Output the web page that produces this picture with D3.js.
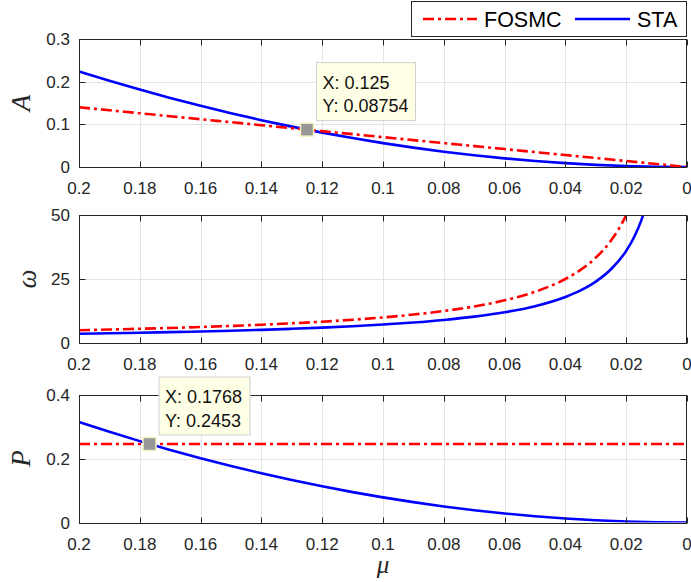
<!DOCTYPE html>
<html>
<head>
<meta charset="utf-8">
<script src="https://cdn.jsdelivr.net/npm/d3@7"></script>
<style>
  html, body { margin: 0; padding: 0; background: #fff; }
  svg { display: block; font-family: "Liberation Sans", Arial, Helvetica, sans-serif; }
  .math { font-family: "Liberation Serif", "Times New Roman", "DejaVu Serif", serif; font-style: italic; }
</style>
</head>
<body>
<svg id="chart" width="691" height="582"></svg>
<script>
// Sample points of the parameter mu
const mu = [0.20, 0.19, 0.18, 0.17, 0.16, 0.15, 0.14, 0.13, 0.12, 0.11, 0.10,
            0.09, 0.08, 0.07, 0.06, 0.05, 0.04, 0.03, 0.02, 0.01, 0.00];

// Amplitude A
const aFOSMC = [0.140, 0.133, 0.126, 0.119, 0.112, 0.105, 0.098, 0.091, 0.084, 0.077, 0.070,
                0.063, 0.056, 0.049, 0.042, 0.035, 0.028, 0.021, 0.014, 0.007, 0.000];
const aSTA   = [0.224, 0.2022, 0.1814, 0.1618, 0.1434, 0.126, 0.1098, 0.0946, 0.0806, 0.0678, 0.056,
                0.0454, 0.0358, 0.0274, 0.0202, 0.014, 0.009, 0.005, 0.0022, 0.0006, 0.0];

// Frequency omega (denser near the vertical asymptote)
const muW = [0.20, 0.19, 0.18, 0.17, 0.16, 0.15, 0.14, 0.13, 0.12, 0.11, 0.10,
             0.09, 0.08, 0.07, 0.06, 0.05, 0.04, 0.035, 0.03, 0.025, 0.02, 0.0175, 0.015, 0.0125];
const wFOSMC = [5.0, 5.26, 5.56, 5.88, 6.25, 6.67, 7.14, 7.69, 8.33, 9.09, 10.0,
                11.11, 12.5, 14.29, 16.67, 20.0, 25.0, 28.57, 33.33, 40.0, 50.0, 57.1, 66.7, 80.0];
const wSTA   = [3.6, 3.79, 4.0, 4.24, 4.5, 4.8, 5.14, 5.54, 6.0, 6.55, 7.2,
                8.0, 9.0, 10.29, 12.0, 14.4, 18.0, 20.57, 24.0, 28.8, 36.0, 41.1, 48.0, 57.6];

// Chattering power P
const pFOSMC = [0.2453, 0.2453, 0.2453, 0.2453, 0.2453, 0.2453, 0.2453, 0.2453, 0.2453, 0.2453, 0.2453,
                0.2453, 0.2453, 0.2453, 0.2453, 0.2453, 0.2453, 0.2453, 0.2453, 0.2453, 0.2453];
const pSTA   = [0.314, 0.2834, 0.2543, 0.2269, 0.201, 0.1766, 0.1539, 0.1327, 0.113, 0.095, 0.0785,
                0.0636, 0.0502, 0.0385, 0.0283, 0.0196, 0.0126, 0.0071, 0.0031, 0.0008, 0.0];

const xTicks = [0.2, 0.18, 0.16, 0.14, 0.12, 0.1, 0.08, 0.06, 0.04, 0.02, 0];
const xTickLabels = ["0.2", "0.18", "0.16", "0.14", "0.12", "0.1", "0.08", "0.06", "0.04", "0.02", "0"];

const seriesNames = ["FOSMC", "STA"];

const panels = [
  { key: "A", label: "A", top: 39, yDomain: [0, 0.3], yTicks: [0, 0.1, 0.2, 0.3], yTickLabels: ["0", "0.1", "0.2", "0.3"],
    xs: mu, series: [aFOSMC, aSTA], tip: { x: 0.125, y: 0.08754, text: ["X: 0.125", "Y: 0.08754"] } },
  { key: "w", label: "\u03c9", top: 215, yDomain: [0, 50], yTicks: [0, 25, 50], yTickLabels: ["0", "25", "50"],
    xs: muW, series: [wFOSMC, wSTA], tip: null },
  { key: "P", label: "P", top: 394.5, yDomain: [0, 0.4], yTicks: [0, 0.2, 0.4], yTickLabels: ["0", "0.2", "0.4"],
    xs: mu, series: [pFOSMC, pSTA], tip: { x: 0.1768, y: 0.2453, text: ["X: 0.1768", "Y: 0.2453"] } }
];

const left = 79, right = 687, plotH = 128;
const axisColor = "#262626";
const gridColor = "#e3e3e3";
const colors = ["#ff0000", "#0000ff"];
const dashes = ["11,4,3,4", null];
const lineW = 2.6;

const svg = d3.select("#chart");
const x = d3.scaleLinear().domain([0.2, 0]).range([left, right]);

panels.forEach(p => {
  const y = d3.scaleLinear().domain(p.yDomain).range([p.top + plotH, p.top]);
  const g = svg.append("g");

  // grid
  g.append("g").selectAll("line").data(xTicks.slice(1, -1)).join("line")
    .attr("x1", d => Math.round(x(d)) + 0.5).attr("x2", d => Math.round(x(d)) + 0.5)
    .attr("y1", p.top).attr("y2", p.top + plotH)
    .attr("stroke", gridColor).attr("stroke-width", 1);
  g.append("g").selectAll("line").data(p.yTicks.slice(1, -1)).join("line")
    .attr("x1", left).attr("x2", right)
    .attr("y1", d => Math.round(y(d)) + 0.5).attr("y2", d => Math.round(y(d)) + 0.5)
    .attr("stroke", gridColor).attr("stroke-width", 1);

  // clip region for curves
  const clipId = "clip-" + p.key;
  svg.append("clipPath").attr("id", clipId).append("rect")
    .attr("x", left).attr("y", p.top).attr("width", right - left).attr("height", plotH);

  const line = d3.line()
    .x((d, i) => x(p.xs[i]))
    .y(d => y(d))
    .curve(d3.curveMonotoneX);

  const curves = g.append("g").attr("clip-path", `url(#${clipId})`);
  // STA first, FOSMC drawn over it
  [1, 0].forEach(si => {
    curves.append("path")
      .attr("d", line(p.series[si]))
      .attr("fill", "none")
      .attr("stroke", colors[si])
      .attr("stroke-width", lineW)
      .attr("stroke-dasharray", dashes[si]);
  });

  // axes box
  g.append("rect")
    .attr("x", left + 0.5).attr("y", Math.round(p.top) + 0.5)
    .attr("width", right - left - 1).attr("height", plotH)
    .attr("fill", "none").attr("stroke", axisColor).attr("stroke-width", 1);

  // inward ticks on all four sides
  const tl = 6;
  const yb = Math.round(p.top) + plotH + 0.5, yt = Math.round(p.top) + 0.5;
  xTicks.forEach(t => {
    const xx = Math.round(x(t)) + 0.5;
    g.append("line").attr("x1", xx).attr("x2", xx).attr("y1", yb).attr("y2", yb - tl).attr("stroke", axisColor);
    g.append("line").attr("x1", xx).attr("x2", xx).attr("y1", yt).attr("y2", yt + tl).attr("stroke", axisColor);
  });
  p.yTicks.forEach(t => {
    const yy = Math.round(y(t)) + 0.5;
    g.append("line").attr("x1", left + 0.5).attr("x2", left + 0.5 + tl).attr("y1", yy).attr("y2", yy).attr("stroke", axisColor);
    g.append("line").attr("x1", right - 0.5).attr("x2", right - 0.5 - tl).attr("y1", yy).attr("y2", yy).attr("stroke", axisColor);
  });

  // tick labels
  g.append("g").selectAll("text").data(xTicks).join("text")
    .attr("x", d => x(d)).attr("y", p.top + plotH + 27)
    .attr("text-anchor", "middle").attr("font-size", 17).attr("fill", axisColor)
    .text((d, i) => xTickLabels[i]);
  g.append("g").selectAll("text").data(p.yTicks).join("text")
    .attr("x", left - 9).attr("y", d => y(d) + 6)
    .attr("text-anchor", "end").attr("font-size", 17).attr("fill", axisColor)
    .text((d, i) => p.yTickLabels[i]);

  // y label
  const cy = p.top + plotH / 2;
  const lx = p.key === "w" ? 27 : 21;
  g.append("text")
    .attr("class", "math")
    .attr("transform", `translate(${lx + 9},${cy}) rotate(-90)`)
    .attr("text-anchor", "middle")
    .attr("font-size", 27).attr("fill", axisColor)
    .text(p.label);

  // data tip
  if (p.tip) {
    const mx = x(p.tip.x), my = y(p.tip.y);
    g.append("rect")
      .attr("x", mx - 6.5).attr("y", my - 6.5).attr("width", 13).attr("height", 13)
      .attr("fill", "#969696").attr("stroke", "#f5f0c0").attr("stroke-width", 1.5);
    const bw = p.key === "A" ? 99 : 91;
    const bx = mx + 9.5, by = my - 9 - 58;
    g.append("rect")
      .attr("x", bx).attr("y", by).attr("width", bw).attr("height", 58)
      .attr("fill", "#ffffe5").attr("stroke", "#cfcfcf").attr("stroke-width", 1);
    p.tip.text.forEach((t, i) => {
      g.append("text")
        .attr("x", bx + 6).attr("y", by + 26 + i * 23.5)
        .attr("font-size", 18).attr("fill", "#111")
        .text(t);
    });
  }
});

// x label
svg.append("text")
  .attr("class", "math")
  .attr("x", (left + right) / 2).attr("y", 573)
  .attr("text-anchor", "middle")
  .attr("font-size", 25).attr("fill", axisColor)
  .text("\u03bc");

// legend
const lg = svg.append("g");
lg.append("rect").attr("x", 411.5).attr("y", 1.5).attr("width", 275).attr("height", 35)
  .attr("fill", "#fff").attr("stroke", axisColor).attr("stroke-width", 1);
const legendItems = [
  { x1: 423, x2: 477, tx: 484 },
  { x1: 575, x2: 630, tx: 637 }
];
legendItems.forEach((it, i) => {
  lg.append("line").attr("x1", it.x1).attr("x2", it.x2).attr("y1", 19).attr("y2", 19)
    .attr("stroke", colors[i]).attr("stroke-width", lineW).attr("stroke-dasharray", dashes[i]);
  lg.append("text").attr("x", it.tx).attr("y", 27).attr("font-size", 21.5).attr("fill", "#000")
    .text(seriesNames[i]);
});
</script>
</body>
</html>
